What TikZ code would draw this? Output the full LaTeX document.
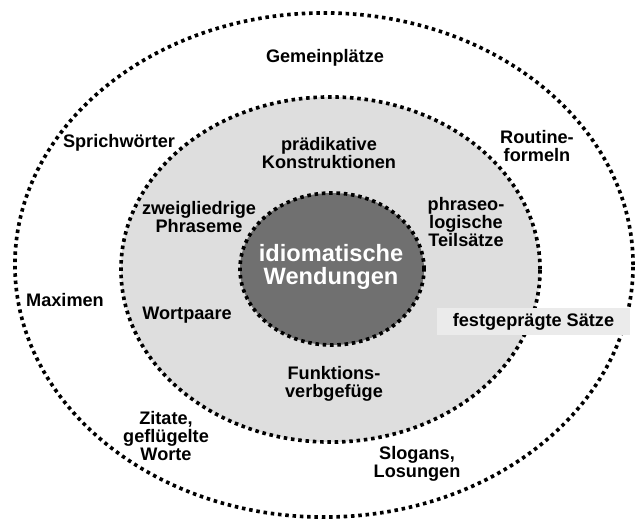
\documentclass[tikz,border=0pt]{standalone}
\usepackage{fontspec}
\setmainfont{Liberation Sans}
\usetikzlibrary{shapes}
\definecolor{midgray}{gray}{0.87}
\definecolor{coregray}{gray}{0.44}
\definecolor{boxgray}{gray}{0.92}

\begin{document}
\begin{tikzpicture}[x=0.025cm,y=-0.025cm]
      \tikzstyle{ring}=[ellipse,draw=black,line width=2.6pt,dash pattern=on 2.5pt off 2.7pt,inner sep=0pt]
      \tikzstyle{every node}=[font=\fontsize{12.9}{13}\selectfont\bfseries,align=center]
      \tikzstyle{corelabel}=[text=white,font=\fontsize{16.8}{16.5}\selectfont\bfseries]
      \tikzstyle{satzbox}=[fill=boxgray,minimum width=4.825cm,minimum height=0.675cm,inner sep=0pt]
      \useasboundingbox (0,0) rectangle (638,521);
      % the three rings
      \node[ring,minimum width=15.45cm,minimum height=12.6cm] (outer) at (324,265) {};
      \node[ring,fill=midgray,minimum width=10.475cm,minimum height=8.625cm] (middle) at (330.5,269.5) {};
      \node[ring,fill=coregray,minimum width=4.6cm,minimum height=3.8cm] (core) at (332,269) {};
      \node[corelabel] (idiom) at (331,267) {idiomatische\\Wendungen};
      % middle ring
      \node (praed) at (329,153) {prädikative\\Konstruktionen};
      \node (zweig) at (199,217) {zweigliedrige\\Phraseme};
      \node (teils) at (466,222) {phraseo-\\logische\\Teilsätze};
      \node (wortp) at (187,315) {Wortpaare};
      \node (funkt) at (334,384) {Funktions-\\verbgefüge};
      % outer ring
      \node (gemein) at (325,58) {Gemeinplätze};
      \node (sprich) at (119,143) {Sprichwörter};
      \node (routine) at (537,146) {Routine-\\formeln};
      \node (maxim) at (65,300) {Maximen};
      \node[satzbox] (fest) at (533.5,321.5) {festgeprägte Sätze};
      \node (zitat) at (166,436) {Zitate,\\geflügelte\\Worte};
      \node (slogan) at (417,464) {Slogans,\\Losungen};
\end{tikzpicture}
\end{document}
